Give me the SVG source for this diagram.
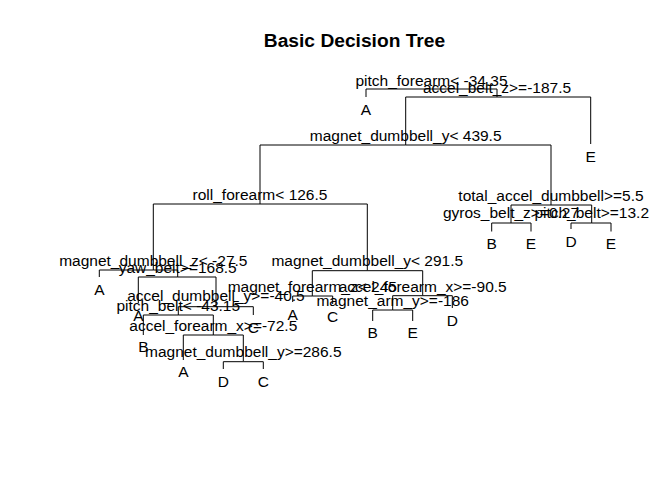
<svg xmlns="http://www.w3.org/2000/svg" width="672" height="480" viewBox="0 0 672 480">
<style>
text{font-family:"Liberation Sans",Arial,sans-serif;font-size:15.5px;fill:#000;text-anchor:middle}
.title{font-size:19.2px;font-weight:bold}
#connectors path{fill:none;stroke:#000;stroke-width:1}
</style>
<rect width="672" height="480" fill="#fff"/>
<text class="title" x="354.5" y="47">Basic Decision Tree</text>
<g id="connectors">
<path d="M366 97V89H431.5"/>
<path d="M497 97V89H431.5"/>
<path d="M405.7 145V97H497"/>
<path d="M590.7 144V97H497"/>
<path d="M260 204V145H405.7"/>
<path d="M551 205V145H405.7"/>
<path d="M511 223V205H551"/>
<path d="M591.7 223V205H551"/>
<path d="M491.7 231.5V223H511"/>
<path d="M531 231.5V223H511"/>
<path d="M571 229V223H591.7"/>
<path d="M611 231.5V223H591.7"/>
<path d="M153.3 270V204H260"/>
<path d="M367.3 270.7V204H260"/>
<path d="M99.3 277V270H153.3"/>
<path d="M177.7 277V270H153.3"/>
<path d="M138.3 303V277H177.7"/>
<path d="M216 306.7V277H177.7"/>
<path d="M178.3 315V306.7H216"/>
<path d="M253.3 315V306.7H216"/>
<path d="M143.3 335V315H178.3"/>
<path d="M213.3 335V315H178.3"/>
<path d="M183.3 360V335H213.3"/>
<path d="M243.3 361.7V335H213.3"/>
<path d="M223.3 369V361.7H243.3"/>
<path d="M263.3 369V361.7H243.3"/>
<path d="M312.3 296V270.7H367.3"/>
<path d="M422.7 295.7V270.7H367.3"/>
<path d="M292.7 302V296H312.3"/>
<path d="M332.7 304V296H312.3"/>
<path d="M392.7 310V295.7H422.7"/>
<path d="M452.3 308V295.7H422.7"/>
<path d="M372.7 321V310H392.7"/>
<path d="M412.7 321V310H392.7"/>
</g>
<g id="n1"><text x="431.5" y="86">pitch_forearm&lt; -34.35</text></g>
<g id="n2"><text x="366" y="115">A</text></g>
<g id="n3"><text x="497" y="93">accel_belt_z&gt;=-187.5</text></g>
<g id="n7"><text x="590.7" y="162">E</text></g>
<g id="n6"><text x="405.7" y="141">magnet_dumbbell_y&lt; 439.5</text></g>
<g id="n12"><text x="260" y="200">roll_forearm&lt; 126.5</text></g>
<g id="n13"><text x="551" y="200.5">total_accel_dumbbell&gt;=5.5</text></g>
<g id="n26"><text x="511" y="217.5">gyros_belt_z&gt;=0.27</text></g>
<g id="n52"><text x="491.7" y="249">B</text></g>
<g id="n53"><text x="531" y="249">E</text></g>
<g id="n27"><text x="591.7" y="217.5">pitch_belt&gt;=13.2</text></g>
<g id="n54"><text x="571" y="247">D</text></g>
<g id="n55"><text x="611" y="249">E</text></g>
<g id="n24"><text x="153.3" y="266">magnet_dumbbell_z&lt; -27.5</text></g>
<g id="n48"><text x="99.3" y="295">A</text></g>
<g id="n49"><text x="177.7" y="273">yaw_belt&gt;=168.5</text></g>
<g id="n98"><text x="138.3" y="321">A</text></g>
<g id="n99"><text x="216" y="301">accel_dumbbell_y&gt;=-40.5</text></g>
<g id="n198"><text x="178.3" y="311">pitch_belt&lt; -43.15</text></g>
<g id="n199"><text x="253.3" y="333">C</text></g>
<g id="n396"><text x="143.3" y="352">B</text></g>
<g id="n397"><text x="213.3" y="330.5">accel_forearm_x&gt;=-72.5</text></g>
<g id="n794"><text x="183.3" y="377">A</text></g>
<g id="n795"><text x="243.3" y="357">magnet_dumbbell_y&gt;=286.5</text></g>
<g id="n1590"><text x="223.3" y="387">D</text></g>
<g id="n1591"><text x="263.3" y="387">C</text></g>
<g id="n25"><text x="367.3" y="265.5">magnet_dumbbell_y&lt; 291.5</text></g>
<g id="n50"><text x="312.3" y="292">magnet_forearm_z&lt; 245</text></g>
<g id="n100"><text x="292.7" y="320">A</text></g>
<g id="n101"><text x="332.7" y="322">C</text></g>
<g id="n51"><text x="422.7" y="292">accel_forearm_x&gt;=-90.5</text></g>
<g id="n102"><text x="392.7" y="305.5">magnet_arm_y&gt;=-186</text></g>
<g id="n204"><text x="372.7" y="338">B</text></g>
<g id="n205"><text x="412.7" y="338">E</text></g>
<g id="n103"><text x="452.3" y="326">D</text></g>
</svg>
